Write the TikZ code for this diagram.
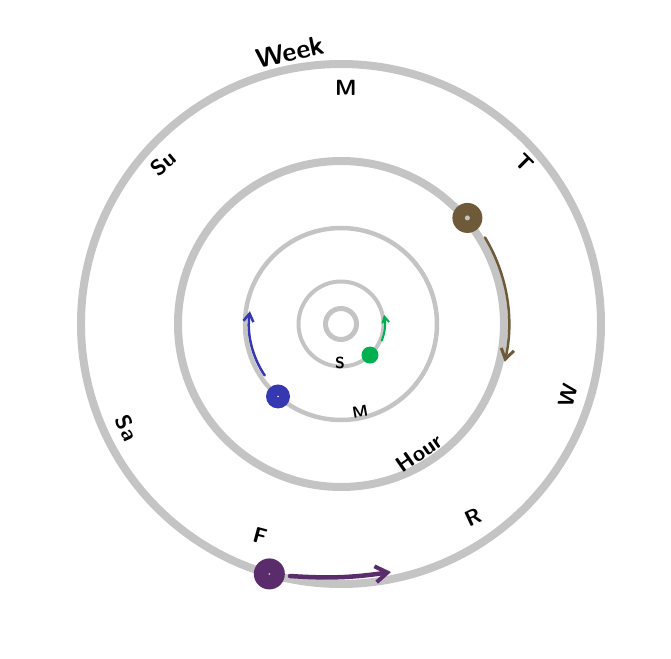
\documentclass[tikz,border=0pt]{standalone}
\usepackage{xcolor}
\usepackage{tikz}
\usetikzlibrary{arrows.meta}
\definecolor{ringgray}{HTML}{C4C4C4}
\definecolor{hourbrown}{HTML}{6E5A38}
\definecolor{minblue}{HTML}{3538B0}
\definecolor{secgreen}{HTML}{00B050}
\definecolor{daypurple}{HTML}{5B2C6C}

\begin{document}
\begin{tikzpicture}[x=1pt,y=1pt,
  ring/.style={draw=ringgray},
  hand/.style={circle,inner sep=0pt},
  motion/.style={line cap=round},
  lbl/.style={inner sep=0pt,font=\sffamily\bfseries\fontsize{22}{26}\selectfont},
  small/.style={inner sep=0pt,font=\sffamily\bfseries\fontsize{16}{19}\selectfont}]
\useasboundingbox (-341,-334) rectangle (330,324);
\coordinate (c) at (0,0);
% rings: week, day, hour, minute, second
\foreach \r/\w in {260/8,163/8,96/4.5,42.5/4,15.5/5}{
  \draw[ring,line width=\w] (c) circle[radius=\r];
}
% hands on the rings
\node[hand,fill=hourbrown,minimum size=30] (hdot) at (40:165) {};
\node[hand,fill=minblue,minimum size=24] (mdot) at (229:96) {};
\node[hand,fill=secgreen,minimum size=17] (sdot) at (-47:42.5) {};
\node[hand,fill=daypurple,minimum size=31] (ddot) at (254:260) {};
\fill[ringgray] (hdot) circle[radius=2.5];
\fill[ringgray] (ddot) circle[radius=1];
\fill[white] (mdot) circle[radius=0.8];
% direction of motion
\coordinate (hfrom) at (31:168);
\coordinate (mfrom) at (214:92);
\coordinate (sfrom) at (-22:44);
\coordinate (dfrom) at (-51,-252);
\coordinate (dto) at (50,-248);
\draw[motion,hourbrown,line width=2.5,-{Straight Barb[length=10pt,width=13pt,line width=3pt]}]
  (hfrom) arc[start angle=31,end angle=-13,radius=168];
\draw[motion,minblue,line width=2.5,-{Straight Barb[length=8pt,width=10pt,line width=2.5pt]}]
  (mfrom) arc[start angle=214,end angle=172,radius=92];
\draw[motion,secgreen,line width=2,-{Straight Barb[length=6pt,width=7pt,line width=2pt]}]
  (sfrom) arc[start angle=-22,end angle=12,radius=44];
\draw[motion,daypurple,line width=4.5,-{Straight Barb[length=12pt,width=16pt,line width=4pt]}]
  (dfrom) to[bend right=6] (dto);
% labels
\node[lbl,rotate=12,font=\sffamily\bfseries\fontsize{27}{30}\selectfont] (week) at (-51,272) {Week};
\node[lbl] (mon) at (5,236) {M};
\node[lbl,rotate=-45] (tue) at (184,161) {T};
\node[lbl,rotate=75] (wed) at (227,-71) {W};
\node[lbl,rotate=25] (thu) at (132,-193) {R};
\node[lbl,rotate=-15] (fri) at (-81,-212) {F};
\node[lbl,rotate=-65] (sat) at (-214,-104) {Sa};
\node[lbl,rotate=40] (sun) at (-178,161) {Su};
\node[lbl,rotate=35] (hour) at (78,-129) {Hour};
\node[small,rotate=10] (minute) at (19,-88) {M};
\node[small] (second) at (-1,-39) {S};
\end{tikzpicture}
\end{document}
